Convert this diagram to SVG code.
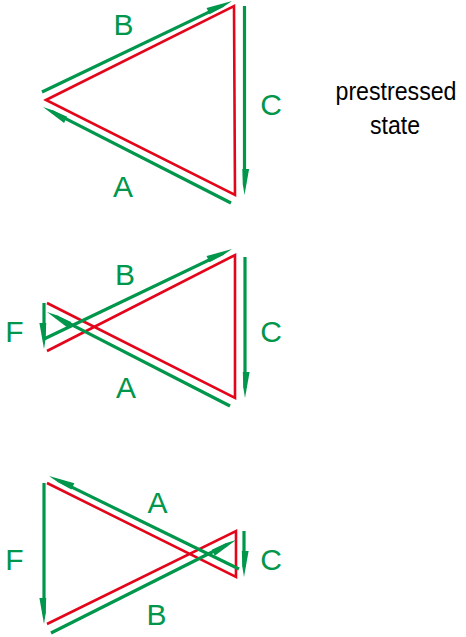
<svg xmlns="http://www.w3.org/2000/svg" width="466" height="637" viewBox="0 0 466 637">
<style>
.m{fill:none;stroke:#E3061B;stroke-width:2.6;stroke-linejoin:miter}
.f{fill:none;stroke:#00964B;stroke-width:3.2}
.al{marker-end:url(#hl)}
.ar{marker-end:url(#hr)}
.lb{font-family:"Liberation Sans",Arial,sans-serif;font-size:30px;fill:#00964B;text-anchor:middle}
.tx{font-family:"Liberation Sans",Arial,sans-serif;font-size:25px;fill:#000;text-anchor:middle}
</style>
<defs>
<marker id="hl" markerUnits="userSpaceOnUse" orient="auto" refX="0" refY="0" markerWidth="40" markerHeight="20" overflow="visible">
<path d="M10,0 L-16,-4.6 L-16,2.2 L0,1.6 Z" fill="#00964B"/>
</marker>
<marker id="hr" markerUnits="userSpaceOnUse" orient="auto" refX="0" refY="0" markerWidth="40" markerHeight="20" overflow="visible">
<path d="M10,0 L0,-1.6 L-16,-2.2 L-16,4.6 Z" fill="#00964B"/>
</marker>
</defs>
<g id="members">
<polygon id="top-frame" class="m" points="46,100 234,6 235,195"/>
<polyline id="mid-frame" class="m" points="47,303 235,398 235,255 47,351"/>
<polyline id="bot-frame" class="m" points="47,483 236,577 236,531 47,624"/>
</g>
<g id="connectors">
<line class="f al" x1="42" y1="92" x2="222.98" y2="5.32"/>
<line class="f al" x1="231" y1="203" x2="51.91" y2="111.55"/>
<line class="f al" x1="244.5" y1="6" x2="244.5" y2="185"/>
<line class="f al" x1="44" y1="339" x2="222.98" y2="253.32"/>
<line class="f al" x1="230" y1="406" x2="55.9" y2="316.57"/>
<line class="f al" x1="245" y1="257" x2="245" y2="388"/>
<line class="f ar" x1="44" y1="303" x2="44" y2="339"/>
<line class="f ar" x1="239" y1="569" x2="57.98" y2="480.4"/>
<line class="f ar" x1="51" y1="633" x2="227.07" y2="544.49"/>
<line class="f ar" x1="44" y1="483" x2="44" y2="614"/>
<line class="f al" x1="244" y1="531" x2="244" y2="567"/>
</g>
<g id="labels">
<text class="lb" x="123.5" y="35">B</text>
<text class="lb" x="123" y="197">A</text>
<text class="lb" x="271" y="115">C</text>
<text class="lb" x="125" y="285">B</text>
<text class="lb" x="126" y="398">A</text>
<text class="lb" x="271" y="342">C</text>
<text class="lb" x="14.5" y="342">F</text>
<text class="lb" x="157.5" y="513">A</text>
<text class="lb" x="156.5" y="625">B</text>
<text class="lb" x="271" y="570">C</text>
<text class="lb" x="14.5" y="570">F</text>
</g>
<g id="caption">
<text class="tx" x="396" y="100" textLength="121" lengthAdjust="spacingAndGlyphs">prestressed</text>
<text class="tx" x="395" y="134" textLength="50" lengthAdjust="spacingAndGlyphs">state</text>
</g>
</svg>
